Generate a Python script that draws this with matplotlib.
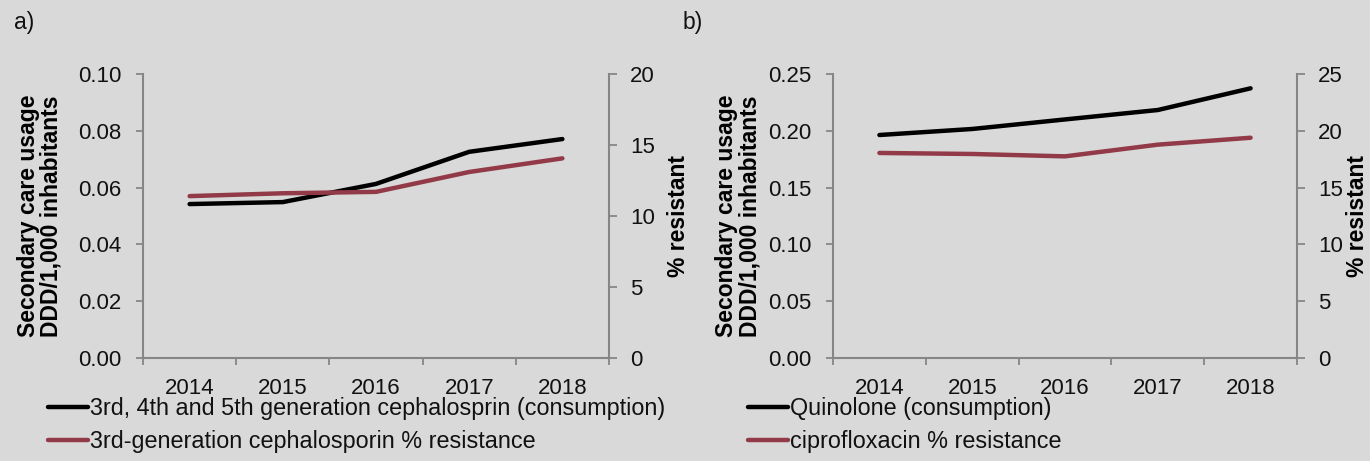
import numpy as np
import matplotlib.pyplot as plt

years = ['2014', '2015', '2016', '2017', '2018']

# panel a
ceph_use = [0.0542, 0.0549, 0.0613, 0.0726, 0.0771]
ceph_res = [11.4, 11.6, 11.7, 13.1, 14.06]
# panel b
quin_use = [0.1963, 0.2016, 0.2100, 0.2183, 0.2374]
cipro_res = [18.05, 17.96, 17.75, 18.78, 19.39]

bg = '#d9d9d9'
grey = '#868686'
red = '#923a48'
fs = 16

plt.rcParams['font.family'] = ['Liberation Sans', 'DejaVu Sans']
plt.rcParams['text.color'] = '#111111'
plt.rcParams['xtick.labelcolor'] = '#111111'
plt.rcParams['ytick.labelcolor'] = '#111111'

fig = plt.figure(figsize=(13.7, 4.61), dpi=100, facecolor=bg)
W, H = 1370, 461


def panel(rect, use, res, ylim_l, lticks, ylim_r, rticks, lab_use, lab_res,
          tag, tagx, legx, lab_l, lab_r):
    ax = fig.add_axes(rect)
    ax.set_facecolor(bg)
    ax2 = ax.twinx()
    x = np.arange(len(years)) + 0.5
    l1, = ax.plot(x, use, color='black', lw=3.2, solid_capstyle='round', zorder=3)
    l2, = ax2.plot(x, res, color=red, lw=3.2, solid_capstyle='round')
    ax.set_xlim(0, len(years))
    ax.set_ylim(*ylim_l)
    ax2.set_ylim(*ylim_r)
    ax.set_yticks(lticks)
    ax.set_yticklabels([f'{v:.2f}' for v in lticks])
    ax2.set_yticks(rticks)
    ax2.set_yticklabels([f'{v:g}' for v in rticks])
    ax.set_xticks(np.arange(len(years) + 1))
    ax.set_xticklabels([])
    ax.set_xticks(x, minor=True)
    ax.set_xticklabels(years, minor=True)
    ax.tick_params(axis='x', which='minor', length=0, pad=14.4, labelsize=fs)
    ax.tick_params(axis='x', which='major', length=5, color=grey, width=1.3)
    ax.tick_params(axis='y', length=5, color=grey, width=1.3, labelsize=fs, pad=10.8)
    ax2.tick_params(axis='y', length=5.8, color=grey, width=1.3, labelsize=fs, pad=9.4)
    for a in (ax, ax2):
        for s in a.spines.values():
            s.set_visible(False)
    ax.spines['left'].set_visible(True)
    ax.spines['bottom'].set_visible(True)
    ax2.spines['right'].set_visible(True)
    for s in (ax.spines['left'], ax.spines['bottom'], ax2.spines['right']):
        s.set_color(grey)
        s.set_linewidth(1.5)
    ax.set_ylabel('Secondary care usage\nDDD/1,000 inhabitants',
                  fontweight='bold', fontsize=16.5, linespacing=1.0)
    ax.yaxis.set_label_coords(lab_l, 0.5)
    ax2.set_ylabel('% resistant', fontweight='bold', fontsize=16.5)
    ax2.yaxis.set_label_coords(lab_r, 0.5)
    fig.legend([l1, l2], [lab_use, lab_res], loc='upper left',
               bbox_to_anchor=(legx / W, 1 - 397 / H), frameon=False, fontsize=16.8,
               handlelength=1.72, handletextpad=0.09, labelspacing=0.42,
               borderaxespad=0, borderpad=0)
    fig.text(tagx / W, 1 - 23 / H, tag, fontsize=16.5, va='center')
    return ax


panel([143 / W, 1 - 358 / H, 466 / W, 284 / H], ceph_use, ceph_res,
      (0, 0.10), [0, 0.02, 0.04, 0.06, 0.08, 0.10], (0, 20), [0, 5, 10, 15, 20],
      '3rd, 4th and 5th generation cephalosprin (consumption)',
      '3rd-generation cephalosporin % resistance', 'a)', 14, 48, -0.172, 1.1245)
panel([833 / W, 1 - 358 / H, 464 / W, 284 / H], quin_use, cipro_res,
      (0, 0.25), [0, 0.05, 0.10, 0.15, 0.20, 0.25], (0, 25), [0, 5, 10, 15, 20, 25],
      'Quinolone (consumption)', 'ciprofloxacin % resistance', 'b)', 683, 748, -0.155, 1.106)

fig.savefig('out.png', dpi=100, facecolor=bg)
